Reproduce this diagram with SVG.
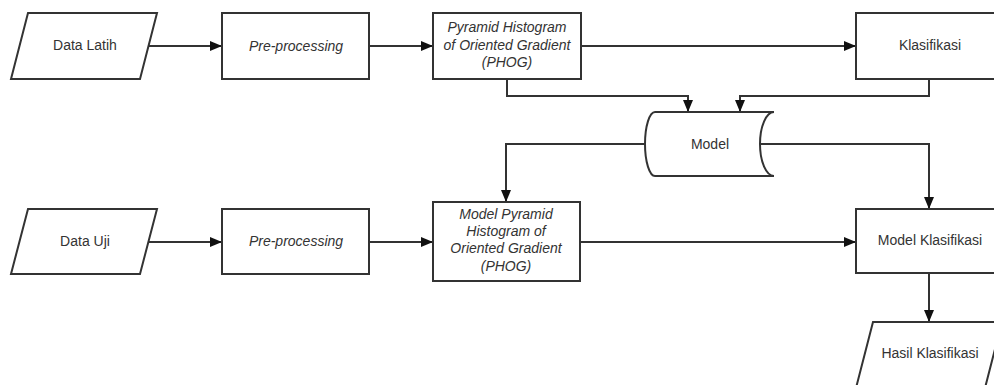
<svg xmlns="http://www.w3.org/2000/svg" width="994" height="385" viewBox="0 0 994 385">
<style>
.s{fill:#fff;stroke:#333;stroke-width:2}
.c{fill:none;stroke:#333;stroke-width:2}
text{font-family:"Liberation Sans",Arial,sans-serif;font-size:14px;fill:#333;text-anchor:middle}
.i{font-style:italic}
</style>
<defs>
<marker id="a" markerUnits="userSpaceOnUse" markerWidth="13" markerHeight="11" refX="12" refY="5" orient="auto">
<path d="M0,0 L12,5 L0,10 Z" fill="#111"/>
</marker>
</defs>
<rect width="994" height="385" fill="#fff"/>
<g id="connectors">
<path class="c" d="M149,46 H222" marker-end="url(#a)"/>
<path class="c" d="M369,46 H433" marker-end="url(#a)"/>
<path class="c" d="M581,46 H856" marker-end="url(#a)"/>
<path class="c" d="M507,79 V96 H688 V112" marker-end="url(#a)"/>
<path class="c" d="M929,79 V96 H740 V112" marker-end="url(#a)"/>
<path class="c" d="M645,144 H506 V202" marker-end="url(#a)"/>
<path class="c" d="M760,144 H929 V209" marker-end="url(#a)"/>
<path class="c" d="M149,242 H222" marker-end="url(#a)"/>
<path class="c" d="M369,242 H433" marker-end="url(#a)"/>
<path class="c" d="M580,242 H856" marker-end="url(#a)"/>
<path class="c" d="M929,273 V322" marker-end="url(#a)"/>
</g>
<g id="data-latih">
<polygon class="s" points="28,13 157,13 140,79 11,79"/>
<text x="85" y="50">Data Latih</text>
</g>
<g id="pre1">
<rect class="s" x="222" y="13" width="147" height="66"/>
<text class="i" x="296" y="51">Pre-processing</text>
</g>
<g id="phog">
<rect class="s" x="433" y="13" width="148" height="66"/>
<text class="i" x="507" y="32">Pyramid Histogram</text>
<text class="i" x="507" y="49.5">of Oriented Gradient</text>
<text class="i" x="507" y="67">(PHOG)</text>
</g>
<g id="klasifikasi">
<rect class="s" x="856" y="13" width="148" height="66"/>
<text x="930" y="50">Klasifikasi</text>
</g>
<g id="model">
<path class="s" d="M655,112 H774 A14,32 0 0 0 774,176 H655 A10,32 0 0 1 655,112 Z"/>
<text x="710" y="149">Model</text>
</g>
<g id="data-uji">
<polygon class="s" points="28,209 157,209 140,274 11,274"/>
<text x="85" y="246">Data Uji</text>
</g>
<g id="pre2">
<rect class="s" x="222" y="209" width="147" height="65"/>
<text class="i" x="296" y="246">Pre-processing</text>
</g>
<g id="model-phog">
<rect class="s" x="433" y="202" width="147" height="79"/>
<text class="i" x="506" y="219">Model Pyramid</text>
<text class="i" x="506" y="236">Histogram of</text>
<text class="i" x="506" y="253">Oriented Gradient</text>
<text class="i" x="506" y="271">(PHOG)</text>
</g>
<g id="model-klasifikasi">
<rect class="s" x="856" y="209" width="148" height="64"/>
<text x="930" y="245">Model Klasifikasi</text>
</g>
<g id="hasil">
<polygon class="s" points="873,322 1002,322 985,388 856,388"/>
<text x="930" y="358">Hasil Klasifikasi</text>
</g>
</svg>
